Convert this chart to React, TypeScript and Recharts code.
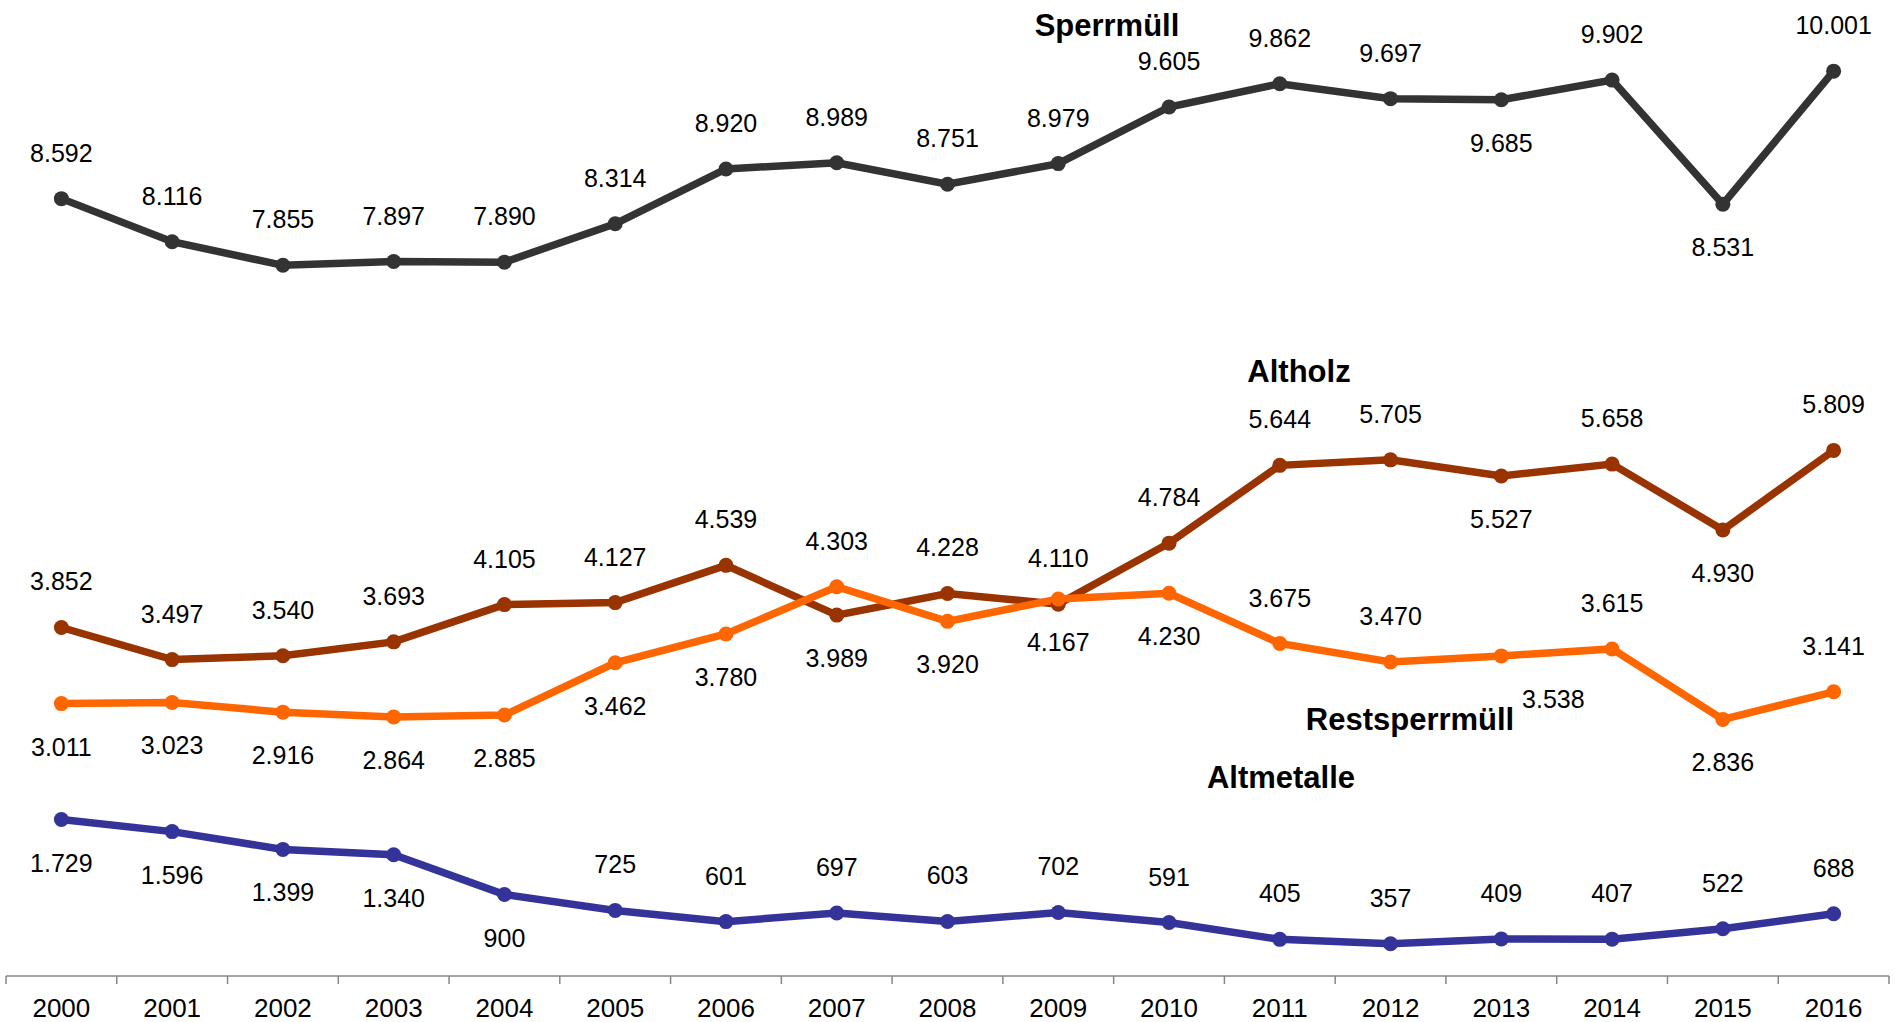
import { LineChart, Line, XAxis, YAxis } from 'recharts';

const years = ['2000', '2001', '2002', '2003', '2004', '2005', '2006', '2007', '2008', '2009', '2010', '2011', '2012', '2013', '2014', '2015', '2016'];

const sperrmuell = [8592, 8116, 7855, 7897, 7890, 8314, 8920, 8989, 8751, 8979, 9605, 9862, 9697, 9685, 9902, 8531, 10001];
const altholz = [3852, 3497, 3540, 3693, 4105, 4127, 4539, 3989, 4228, 4110, 4784, 5644, 5705, 5527, 5658, 4930, 5809];
const restsperrmuell = [3011, 3023, 2916, 2864, 2885, 3462, 3780, 4303, 3920, 4167, 4230, 3675, 3470, 3538, 3615, 2836, 3141];
const altmetalle = [1729, 1596, 1399, 1340, 900, 725, 601, 697, 603, 702, 591, 405, 357, 409, 407, 522, 688];

// label above (u) or below (d) the point, 2000..2016
const sperrLabelPos = ['u', 'u', 'u', 'u', 'u', 'u', 'u', 'u', 'u', 'u', 'u', 'u', 'u', 'd', 'u', 'd', 'u'];
const altholzLabelPos = ['u', 'u', 'u', 'u', 'u', 'u', 'u', 'd', 'u', 'u', 'u', 'u', 'u', 'd', 'u', 'd', 'u'];
const restLabelPos = ['d', 'd', 'd', 'd', 'd', 'd', 'd', 'u', 'd', 'd', 'd', 'u', 'u', 'd', 'u', 'd', 'u'];
const metallLabelPos = ['d', 'd', 'd', 'd', 'd', 'u', 'u', 'u', 'u', 'u', 'u', 'u', 'u', 'u', 'u', 'u', 'u'];
// horizontal nudges of single labels (index -> px)
const restLabelShift: Record<number, number> = { 13: 52 };

const WIDTH = 1895;
const HEIGHT = 1022;
const MARGIN = { top: 26, right: 6, bottom: 6, left: 6 };
const AXIS_H = 40;
const AXIS_Y = HEIGHT - MARGIN.bottom - AXIS_H;
const BAND = (WIDTH - MARGIN.left - MARGIN.right) / years.length;
const FONT = '"Liberation Sans", Arial, Helvetica, sans-serif';
const LINE_W = 7.5;
const DOT_R = 7.5;

const data = years.map((year, i) => ({
	year,
	sperrmuell: sperrmuell[i],
	altholz: altholz[i],
	restsperrmuell: restsperrmuell[i],
	altmetalle: altmetalle[i],
}));

function fmt(v: number) {
	if (v < 1000) return String(v);
	return `${Math.floor(v / 1000)}.${String(v % 1000).padStart(3, '0')}`;
}

function makeLabel(pos: string[], shift: Record<number, number> = {}) {
	return (props: any) => {
		const { x, y, value, index } = props;
		if (x == null || y == null) return null;
		const below = pos[index] === 'd';
		return (
			<text
				key={`lbl-${index}`}
				x={x + (shift[index] || 0)}
				y={below ? y + 52 : y - 37}
				textAnchor="middle"
				fontSize={25}
				fontFamily={FONT}
				fill="#000"
			>
				{fmt(Number(value))}
			</text>
		);
	};
}

function makeDot(color: string) {
	return (props: any) => {
		const { cx, cy, index } = props;
		if (cx == null || cy == null) return null;
		return <circle key={`dot-${index}`} cx={cx} cy={cy} r={DOT_R} fill={color} />;
	};
}

function YearTick(props: any) {
	const { x, payload, index } = props;
	return (
		<g>
			<line x1={x - BAND / 2} x2={x - BAND / 2} y1={AXIS_Y} y2={AXIS_Y + 8} stroke="#868686" strokeWidth={1.5} />
			{index === years.length - 1 && (
				<line x1={x + BAND / 2} x2={x + BAND / 2} y1={AXIS_Y} y2={AXIS_Y + 8} stroke="#868686" strokeWidth={1.5} />
			)}
			<text x={x} y={AXIS_Y + 41} textAnchor="middle" fontSize={26} fontFamily={FONT} fill="#000">
				{payload.value}
			</text>
		</g>
	);
}

const seriesNames = [
	{ name: 'Sperrmüll', x: 1107, y: 36 },
	{ name: 'Altholz', x: 1299, y: 382 },
	{ name: 'Restsperrmüll', x: 1410, y: 730 },
	{ name: 'Altmetalle', x: 1281, y: 788 },
];

export default function App() {
	return (
		<div style={{ position: 'absolute', left: 0, top: 0, width: WIDTH, height: HEIGHT, background: '#fff' }}>
			<LineChart width={WIDTH} height={HEIGHT} data={data} margin={MARGIN}>
				<XAxis
					dataKey="year"
					interval={0}
					height={AXIS_H}
					padding={{ left: BAND / 2, right: BAND / 2 }}
					tickLine={false}
					axisLine={{ stroke: '#868686', strokeWidth: 1.5 }}
					tick={<YearTick />}
				/>
				<YAxis hide domain={[0, 10500]} />
				<Line
					type="linear"
					dataKey="altmetalle"
					stroke="#333399"
					strokeWidth={LINE_W}
					dot={makeDot('#333399')}
					activeDot={false}
					isAnimationActive={false}
					label={makeLabel(metallLabelPos)}
				/>
				<Line
					type="linear"
					dataKey="altholz"
					stroke="#993300"
					strokeWidth={LINE_W}
					dot={makeDot('#993300')}
					activeDot={false}
					isAnimationActive={false}
					label={makeLabel(altholzLabelPos)}
				/>
				<Line
					type="linear"
					dataKey="restsperrmuell"
					stroke="#FF6600"
					strokeWidth={LINE_W}
					dot={makeDot('#FF6600')}
					activeDot={false}
					isAnimationActive={false}
					label={makeLabel(restLabelPos, restLabelShift)}
				/>
				<Line
					type="linear"
					dataKey="sperrmuell"
					stroke="#333333"
					strokeWidth={LINE_W}
					dot={makeDot('#333333')}
					activeDot={false}
					isAnimationActive={false}
					label={makeLabel(sperrLabelPos)}
				/>
			</LineChart>
			<svg width={WIDTH} height={HEIGHT} style={{ position: 'absolute', left: 0, top: 0, pointerEvents: 'none' }}>
				{seriesNames.map((s) => (
					<text key={s.name} x={s.x} y={s.y} textAnchor="middle" fontSize={31} fontWeight="bold" fontFamily={FONT} fill="#000">
						{s.name}
					</text>
				))}
			</svg>
		</div>
	);
}
